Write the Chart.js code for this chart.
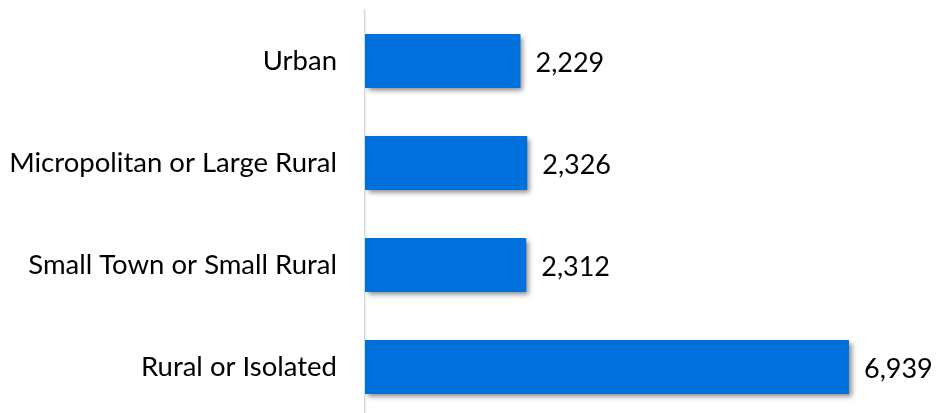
<!DOCTYPE html>
<html>
<head>
<meta charset="utf-8">
<script src="https://cdn.jsdelivr.net/npm/chart.js@4"></script>
<style>
  html, body { margin: 0; padding: 0; background: #fff; overflow: hidden; }
  canvas { display: block; }
</style>
</head>
<body>
<canvas id="areaChart" width="937" height="420"></canvas>
<script>
let categories = ["Urban", "Micropolitan or Large Rural", "Small Town or Small Rural", "Rural or Isolated"];
let counts = [2229, 2326, 2312, 6939];

// value labels + drop shadow under the bars
let barExtras = {
  id: 'barExtras',
  beforeDatasetDraw(chart) {
    let c = chart.ctx;
    c.save();
    c.shadowColor = 'rgba(0,0,0,0.45)';
    c.shadowBlur = 5;
    c.shadowOffsetX = 3;
    c.shadowOffsetY = 3;
  },
  afterDatasetDraw(chart) {
    chart.ctx.restore();
  },
  afterDatasetsDraw(chart) {
    let c = chart.ctx;
    let meta = chart.getDatasetMeta(0);
    c.save();
    c.font = '27px Lato';
    c.fillStyle = '#000';
    c.textBaseline = 'middle';
    c.textAlign = 'left';
    meta.data.forEach(function(bar, i) {
      c.fillText(counts[i].toLocaleString('en-US'), bar.x + 15, bar.y + 2);
    });
    c.restore();
  }
};

let barChart = new Chart(document.getElementById('areaChart'), {
  type: 'bar',
  data: {
    labels: categories,
    datasets: [{
      data: counts,
      backgroundColor: '#0070DD',
      borderWidth: 0,
      barPercentage: 0.53,
      categoryPercentage: 1
    }]
  },
  options: {
    indexAxis: 'y',
    responsive: false,
    animation: false,
    layout: { padding: { top: 10, bottom: 2, left: 0, right: 14 } },
    plugins: {
      legend: { display: false },
      tooltip: { enabled: false }
    },
    scales: {
      x: {
        min: 0,
        max: 8000,
        display: false
      },
      y: {
        grid: { display: false, drawTicks: false },
        border: { display: true, color: '#d9d9d9', width: 1.5 },
        ticks: {
          color: '#000',
          padding: 28,
          font: { family: 'Lato', size: 27.5 }
        },
        // tick padding otherwise gets added above/below the plot
        afterFit(scale) {
          scale.width = 365;
          scale.paddingTop = 0;
          scale.paddingBottom = 0;
        }
      }
    }
  },
  plugins: [barExtras]
});
</script>
</body>
</html>
